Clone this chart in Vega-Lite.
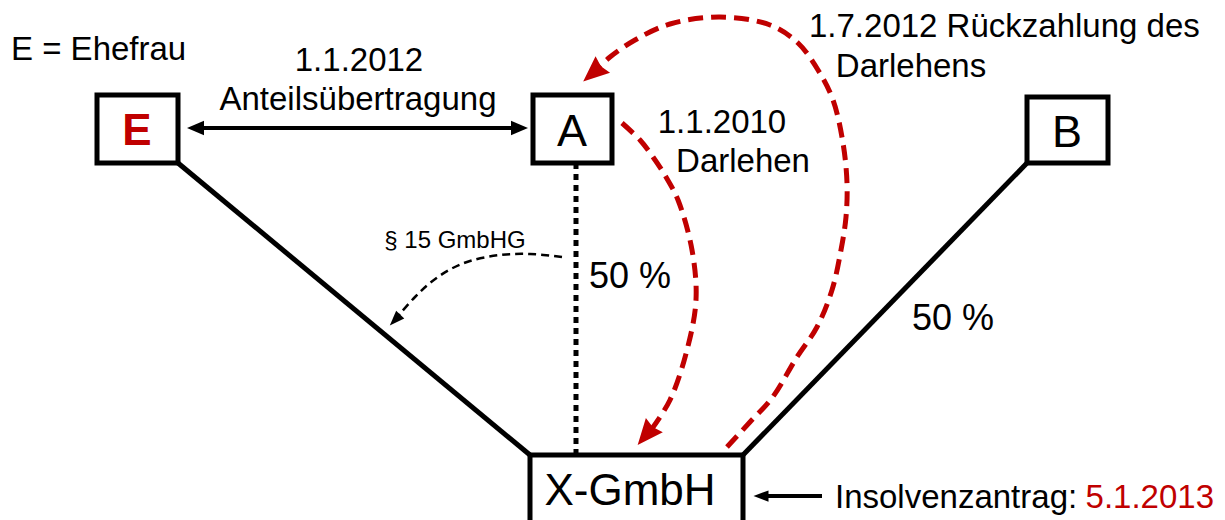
{
  "$schema": "https://vega.github.io/schema/vega-lite/v6.json",
  "width": 1225,
  "height": 520,
  "autosize": {"type": "fit", "contains": "padding"},
  "padding": 0,
  "background": "white",
  "config": {"view": {"stroke": null}, "text": {"font": "Liberation Sans"}},
  "datasets": {
    "boxes": [
      {"name": "E", "x": 97, "y": 95, "x2": 178, "y2": 163},
      {"name": "A", "x": 533, "y": 95, "x2": 612, "y2": 163},
      {"name": "B", "x": 1027, "y": 97, "x2": 1108, "y2": 163},
      {"name": "X-GmbH", "x": 530, "y": 455, "x2": 743, "y2": 545}
    ],
    "links": [
      {"name": "E-X", "x": 178, "y": 163, "x2": 530, "y2": 455},
      {"name": "B-X", "x": 1027, "y": 163, "x2": 743, "y2": 455}
    ],
    "dotted": [
      {"name": "A-X", "x": 576, "y": 163, "x2": 576, "y2": 455}
    ],
    "arrows": [
      {"name": "Anteilsübertragung", "x": 195, "y": 128, "x2": 520, "y2": 128},
      {"name": "Insolvenzantrag", "x": 762, "y": 496, "x2": 822, "y2": 496}
    ],
    "redcurves": [
      {"curve": "Darlehen", "i": 0, "x": 622, "y": 123},
      {"curve": "Darlehen", "i": 1, "x": 640, "y": 140},
      {"curve": "Darlehen", "i": 2, "x": 653, "y": 157},
      {"curve": "Darlehen", "i": 3, "x": 666, "y": 177},
      {"curve": "Darlehen", "i": 4, "x": 678, "y": 200},
      {"curve": "Darlehen", "i": 5, "x": 692, "y": 250},
      {"curve": "Darlehen", "i": 6, "x": 696, "y": 300},
      {"curve": "Darlehen", "i": 7, "x": 687, "y": 350},
      {"curve": "Darlehen", "i": 8, "x": 670, "y": 400},
      {"curve": "Darlehen", "i": 9, "x": 651, "y": 430},
      {"curve": "Rückzahlung", "i": 0, "x": 727, "y": 447},
      {"curve": "Rückzahlung", "i": 1, "x": 750, "y": 422},
      {"curve": "Rückzahlung", "i": 2, "x": 772, "y": 398},
      {"curve": "Rückzahlung", "i": 3, "x": 797, "y": 357},
      {"curve": "Rückzahlung", "i": 4, "x": 817, "y": 327},
      {"curve": "Rückzahlung", "i": 5, "x": 832, "y": 290},
      {"curve": "Rückzahlung", "i": 6, "x": 841, "y": 250},
      {"curve": "Rückzahlung", "i": 7, "x": 846, "y": 217},
      {"curve": "Rückzahlung", "i": 8, "x": 847, "y": 183},
      {"curve": "Rückzahlung", "i": 9, "x": 843, "y": 143},
      {"curve": "Rückzahlung", "i": 10, "x": 833, "y": 100},
      {"curve": "Rückzahlung", "i": 11, "x": 818, "y": 70},
      {"curve": "Rückzahlung", "i": 12, "x": 798, "y": 43},
      {"curve": "Rückzahlung", "i": 13, "x": 770, "y": 25},
      {"curve": "Rückzahlung", "i": 14, "x": 720, "y": 17},
      {"curve": "Rückzahlung", "i": 15, "x": 670, "y": 24},
      {"curve": "Rückzahlung", "i": 16, "x": 635, "y": 40},
      {"curve": "Rückzahlung", "i": 17, "x": 610, "y": 57},
      {"curve": "Rückzahlung", "i": 18, "x": 595, "y": 71}
    ],
    "blackcurve": [
      {"curve": "§ 15 GmbHG", "i": 0, "x": 562, "y": 257},
      {"curve": "§ 15 GmbHG", "i": 1, "x": 530, "y": 254},
      {"curve": "§ 15 GmbHG", "i": 2, "x": 500, "y": 255},
      {"curve": "§ 15 GmbHG", "i": 3, "x": 470, "y": 261},
      {"curve": "§ 15 GmbHG", "i": 4, "x": 449, "y": 270},
      {"curve": "§ 15 GmbHG", "i": 5, "x": 430, "y": 283},
      {"curve": "§ 15 GmbHG", "i": 6, "x": 415, "y": 297},
      {"curve": "§ 15 GmbHG", "i": 7, "x": 398, "y": 316}
    ],
    "heads": [
      {"kind": "red", "x": 646, "y": 435, "angle": 220},
      {"kind": "red", "x": 593, "y": 73, "angle": 229},
      {"kind": "big", "x": 195.5, "y": 128, "angle": 270},
      {"kind": "big", "x": 519.5, "y": 128, "angle": 90},
      {"kind": "small", "x": 395, "y": 320, "angle": 224},
      {"kind": "small", "x": 761, "y": 496, "angle": 270}
    ],
    "labels": [
      {"group": "mid", "text": "1.1.2012", "x": 359, "y": 71},
      {"group": "mid", "text": "Anteilsübertragung", "x": 358, "y": 110},
      {"group": "mid", "text": "1.1.2010", "x": 722, "y": 133},
      {"group": "mid", "text": "Darlehen", "x": 743, "y": 172},
      {"group": "mid", "text": "Darlehens", "x": 911, "y": 77},
      {"group": "left", "text": "E = Ehefrau", "x": 11, "y": 60},
      {"group": "left", "text": "1.7.2012 Rückzahlung des", "x": 809, "y": 37},
      {"group": "pct", "text": "50 %", "x": 589, "y": 288},
      {"group": "pct", "text": "50 %", "x": 912, "y": 330},
      {"group": "box", "text": "A", "x": 572, "y": 146},
      {"group": "box", "text": "B", "x": 1067, "y": 147},
      {"group": "gmbh", "text": "X-GmbH", "x": 630, "y": 505},
      {"group": "ebold", "text": "E", "x": 137, "y": 145},
      {"group": "small", "text": "§ 15 GmbHG", "x": 455, "y": 248},
      {"group": "insolvenz", "text": "Insolvenzantrag:", "x": 835, "y": 508},
      {"group": "date", "text": "5.1.2013", "x": 1214, "y": 508}
    ]
  },
  "encoding": {
    "x": {"field": "x", "type": "quantitative", "axis": null, "scale": {"domain": [0, 1225], "nice": false, "zero": false}},
    "y": {"field": "y", "type": "quantitative", "axis": null, "scale": {"domain": [0, 520], "nice": false, "zero": false, "reverse": true}}
  },
  "layer": [
    {
      "data": {"name": "links"},
      "mark": {"type": "rule", "color": "black", "strokeWidth": 5, "strokeCap": "butt"},
      "encoding": {"x2": {"field": "x2"}, "y2": {"field": "y2"}}
    },
    {
      "data": {"name": "dotted"},
      "mark": {"type": "rule", "color": "black", "strokeWidth": 5, "strokeDash": [6, 5], "strokeCap": "butt"},
      "encoding": {"x2": {"field": "x2"}, "y2": {"field": "y2"}}
    },
    {
      "data": {"name": "boxes"},
      "mark": {"type": "rect", "fill": "white", "stroke": "black", "strokeWidth": 5, "clip": true},
      "encoding": {"x2": {"field": "x2"}, "y2": {"field": "y2"}}
    },
    {
      "data": {"name": "arrows"},
      "mark": {"type": "rule", "color": "black", "strokeWidth": 4},
      "encoding": {"x2": {"field": "x2"}, "y2": {"field": "y2"}}
    },
    {
      "data": {"name": "redcurves"},
      "mark": {"type": "line", "color": "#C00000", "strokeWidth": 5, "strokeDash": [15, 8], "interpolate": "catmull-rom"},
      "encoding": {"detail": {"field": "curve"}, "order": {"field": "i", "type": "quantitative"}}
    },
    {
      "data": {"name": "blackcurve"},
      "mark": {"type": "line", "color": "black", "strokeWidth": 2.5, "strokeDash": [8, 5], "interpolate": "catmull-rom"},
      "encoding": {"detail": {"field": "curve"}, "order": {"field": "i", "type": "quantitative"}}
    },
    {
      "data": {"name": "heads"},
      "transform": [{"filter": "datum.kind === 'red'"}],
      "mark": {"type": "point", "filled": true, "fill": "#C00000", "strokeWidth": 0, "opacity": 1, "size": 676, "shape": "M0,-1L0.85,1L0,0.8L-0.85,1Z"},
      "encoding": {"angle": {"field": "angle", "type": "quantitative", "scale": null}}
    },
    {
      "data": {"name": "heads"},
      "transform": [{"filter": "datum.kind === 'big'"}],
      "mark": {"type": "point", "filled": true, "fill": "black", "strokeWidth": 0, "opacity": 1, "size": 289, "shape": "M0,-1L0.85,1L-0.85,1Z"},
      "encoding": {"angle": {"field": "angle", "type": "quantitative", "scale": null}}
    },
    {
      "data": {"name": "heads"},
      "transform": [{"filter": "datum.kind === 'small'"}],
      "mark": {"type": "point", "filled": true, "fill": "black", "strokeWidth": 0, "opacity": 1, "size": 225, "shape": "M0,-1L0.75,1L-0.75,1Z"},
      "encoding": {"angle": {"field": "angle", "type": "quantitative", "scale": null}}
    },
    {
      "data": {"name": "labels"},
      "transform": [{"filter": "datum.group === 'mid'"}],
      "mark": {"type": "text", "fontSize": 33, "align": "center", "baseline": "alphabetic", "color": "black"},
      "encoding": {"text": {"field": "text"}}
    },
    {
      "data": {"name": "labels"},
      "transform": [{"filter": "datum.group === 'left'"}],
      "mark": {"type": "text", "fontSize": 33, "align": "left", "baseline": "alphabetic", "color": "black"},
      "encoding": {"text": {"field": "text"}}
    },
    {
      "data": {"name": "labels"},
      "transform": [{"filter": "datum.group === 'pct'"}],
      "mark": {"type": "text", "fontSize": 36, "align": "left", "baseline": "alphabetic", "color": "black"},
      "encoding": {"text": {"field": "text"}}
    },
    {
      "data": {"name": "labels"},
      "transform": [{"filter": "datum.group === 'box'"}],
      "mark": {"type": "text", "fontSize": 45, "align": "center", "baseline": "alphabetic", "color": "black"},
      "encoding": {"text": {"field": "text"}}
    },
    {
      "data": {"name": "labels"},
      "transform": [{"filter": "datum.group === 'gmbh'"}],
      "mark": {"type": "text", "fontSize": 44, "align": "center", "baseline": "alphabetic", "color": "black"},
      "encoding": {"text": {"field": "text"}}
    },
    {
      "data": {"name": "labels"},
      "transform": [{"filter": "datum.group === 'ebold'"}],
      "mark": {"type": "text", "fontSize": 44, "fontWeight": "bold", "align": "center", "baseline": "alphabetic", "color": "#C00000"},
      "encoding": {"text": {"field": "text"}}
    },
    {
      "data": {"name": "labels"},
      "transform": [{"filter": "datum.group === 'small'"}],
      "mark": {"type": "text", "fontSize": 24, "align": "center", "baseline": "alphabetic", "color": "black"},
      "encoding": {"text": {"field": "text"}}
    },
    {
      "data": {"name": "labels"},
      "transform": [{"filter": "datum.group === 'insolvenz'"}],
      "mark": {"type": "text", "fontSize": 33, "align": "left", "baseline": "alphabetic", "color": "black"},
      "encoding": {"text": {"field": "text"}}
    },
    {
      "data": {"name": "labels"},
      "transform": [{"filter": "datum.group === 'date'"}],
      "mark": {"type": "text", "fontSize": 33, "align": "right", "baseline": "alphabetic", "color": "#C00000"},
      "encoding": {"text": {"field": "text"}}
    }
  ]
}
